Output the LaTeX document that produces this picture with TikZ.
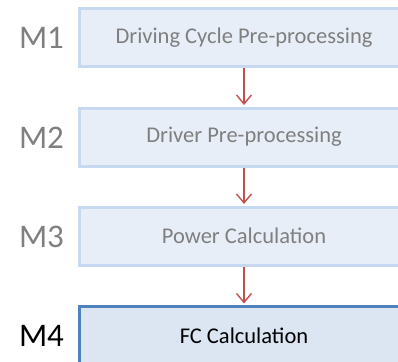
\documentclass[tikz,border=0pt]{standalone}
\usepackage{fontspec}
\setmainfont{Carlito}
\usetikzlibrary{arrows.meta}
\definecolor{boxfill}{HTML}{E7EEF7}
\definecolor{boxline}{HTML}{C6D9F1}
\definecolor{boxfillD}{HTML}{DCE6F2}
\definecolor{boxlineD}{HTML}{4F81BD}
\definecolor{txtgray}{HTML}{7F7F7F}
\definecolor{arrred}{HTML}{C0504D}
\tikzset{
  stage/.style={draw=boxline, fill=boxfill, line width=3pt, minimum width=329pt, minimum height=58pt, inner sep=0pt, text=txtgray, font=\fontsize{22.5pt}{26pt}\selectfont},
  stageD/.style={stage, draw=boxlineD, fill=boxfillD, text=black},
  mlabel/.style={text=txtgray, font=\fontsize{33pt}{38pt}\selectfont, inner sep=0pt},
  flow/.style={draw=arrred, line width=1.4pt, -{Straight Barb[length=9pt,width=15pt,line width=1.4pt]}, shorten >=1.5pt}
}
\begin{document}
\begin{tikzpicture}[x=1pt,y=1pt]
\useasboundingbox (0,0) rectangle (398,-361);
\clip (0,0) rectangle (398,-361);
\node[stage] (b1) at (244,-37.5) {Driving Cycle Pre-processing};
\node[stage] (b2) at (244,-137) {Driver Pre-processing};
\node[stage] (b3) at (244,-236) {Power Calculation};
\node[stageD] (b4) at (244,-335.5) {FC Calculation};
\node[mlabel] (l1) at (41.5,-37.5) {M1};
\node[mlabel] (l2) at (41.5,-138) {M2};
\node[mlabel] (l3) at (41.5,-237) {M3};
\node[mlabel, text=black] (l4) at (41.5,-336) {M4};
\draw[flow] (b1.south) -- (b2.north);
\draw[flow] (b2.south) -- (b3.north);
\draw[flow] (b3.south) -- (b4.north);
\end{tikzpicture}
\end{document}
